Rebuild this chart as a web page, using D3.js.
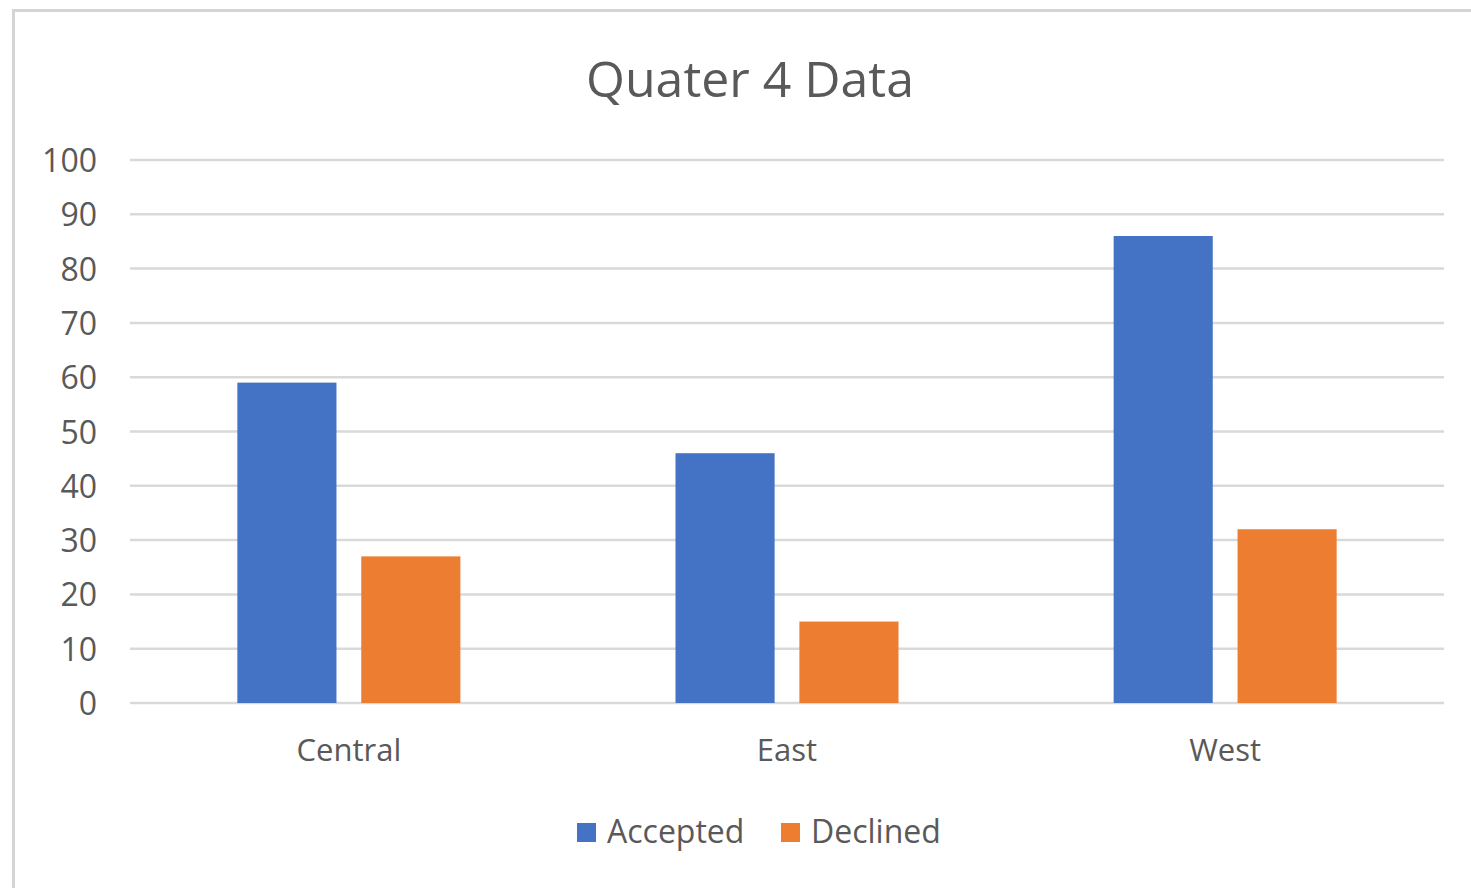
<!DOCTYPE html>
<html>
<head>
  <meta charset="utf-8" />
  <title>Quater 4 Data</title>
  <script src="https://d3js.org/d3.v7.min.js"></script>
  <style>
    html, body { margin: 0; padding: 0; background: #fff; overflow: hidden; }
    text { font-family: "Open Sans", sans-serif; fill: #595959; }
  </style>
</head>
<body>
  <div id="chart"></div>
  <script>
    // chart data
    const regions = ["Central", "East", "West"];
    const seriesNames = ["Accepted", "Declined"];
    const accepted = [59, 46, 86];
    const declined = [27, 15, 32];
    const yTicks = [0, 10, 20, 30, 40, 50, 60, 70, 80, 90, 100];
    const colors = ["#4472c4", "#ed7d31"];

    const width = 1471;
    const height = 888;
    const marginLeft = 130, marginRight = 27, marginTop = 160, marginBottom = 185;

    const svg = d3.select("#chart")
      .append("svg")
      .attr("width", width)
      .attr("height", height);

    // chart frame
    svg.append("rect")
      .attr("x", 13.5).attr("y", 10.5)
      .attr("width", width).attr("height", height)
      .attr("fill", "#fff")
      .attr("stroke", "#d4d4d4")
      .attr("stroke-width", 3);

    const x = d3.scaleBand()
      .domain(regions)
      .range([marginLeft, width - marginRight])
      .paddingInner(0.491)
      .paddingOuter(0.245);

    const xSub = d3.scaleBand()
      .domain(seriesNames)
      .range([0, x.bandwidth()])
      .paddingInner(0.2);

    const y = d3.scaleLinear()
      .domain([0, 100])
      .range([height - marginBottom, marginTop]);

    // gridlines
    svg.append("g")
      .selectAll("line")
      .data(yTicks)
      .join("line")
      .attr("x1", marginLeft)
      .attr("x2", width - marginRight)
      .attr("y1", d => y(d))
      .attr("y2", d => y(d))
      .attr("stroke", "#d9d9d9")
      .attr("stroke-width", 2.5);

    // y axis labels
    const yAxis = d3.axisLeft(y).tickValues(yTicks).tickSize(0).tickPadding(33);
    const gy = svg.append("g")
      .attr("transform", `translate(${marginLeft},0)`)
      .call(yAxis);
    gy.select(".domain").remove();
    gy.selectAll("text")
      .attr("font-size", 32)
      .attr("dy", "0.36em")
      .style("font-family", "Open Sans, sans-serif")
      .attr("fill", "#595959");

    // bars
    const table = regions.map((r, i) => ({ region: r, values: [accepted[i], declined[i]] }));

    svg.append("g")
      .selectAll("g")
      .data(table)
      .join("g")
      .attr("transform", d => `translate(${x(d.region)},0)`)
      .selectAll("rect")
      .data(d => d.values.map((v, j) => ({ key: seriesNames[j], value: v, color: colors[j] })))
      .join("rect")
      .attr("x", d => xSub(d.key))
      .attr("y", d => y(d.value))
      .attr("width", xSub.bandwidth())
      .attr("height", d => y(0) - y(d.value))
      .attr("fill", d => d.color);

    // x axis labels
    const xAxis = d3.axisBottom(x).tickSize(0).tickPadding(36);
    const gx = svg.append("g")
      .attr("transform", `translate(0,${y(0)})`)
      .call(xAxis);
    gx.select(".domain").remove();
    gx.selectAll("text")
      .attr("font-size", 31)
      .style("font-family", "Open Sans, sans-serif")
      .attr("fill", "#595959");

    // title
    svg.append("text")
      .attr("x", 750)
      .attr("y", 97)
      .attr("text-anchor", "middle")
      .attr("font-size", 50)
      .text("Quater 4 Data");

    // legend
    const legendX = [577, 781];
    const legend = svg.append("g")
      .selectAll("g")
      .data(seriesNames)
      .join("g")
      .attr("transform", (d, i) => `translate(${legendX[i]},823)`);
    legend.append("rect")
      .attr("width", 19).attr("height", 19)
      .attr("fill", (d, i) => colors[i]);
    legend.append("text")
      .attr("x", 30).attr("y", 20)
      .attr("font-size", 32)
      .text(d => d);
  </script>
</body>
</html>
